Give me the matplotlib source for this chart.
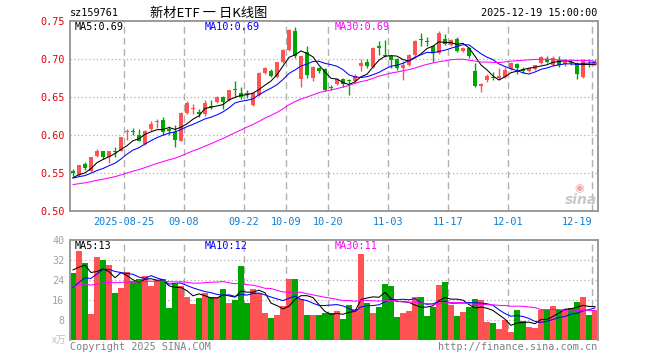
import numpy as np
import pandas as pd
import matplotlib
matplotlib.use('Agg')
import matplotlib.pyplot as plt

# daily candles, 2025-08-12 .. 2025-12-19 (88 trading days)
opens = [0.553, 0.548, 0.562, 0.553, 0.573, 0.580, 0.572, 0.579, 0.580, 0.604,
         0.606, 0.601, 0.589, 0.608, 0.618, 0.620, 0.608, 0.604, 0.593, 0.629,
         0.634, 0.630, 0.628, 0.639, 0.644, 0.651, 0.646, 0.660, 0.656, 0.655,
         0.640, 0.653, 0.682, 0.685, 0.677, 0.696, 0.712, 0.737, 0.674, 0.709,
         0.675, 0.689, 0.687, 0.663, 0.668, 0.674, 0.673, 0.671, 0.691, 0.696,
         0.690, 0.717, 0.706, 0.704, 0.701, 0.688, 0.692, 0.706, 0.727, 0.724,
         0.717, 0.708, 0.727, 0.719, 0.727, 0.711, 0.715, 0.684, 0.665, 0.673,
         0.676, 0.676, 0.677, 0.687, 0.694, 0.687, 0.684, 0.687, 0.695, 0.701,
         0.692, 0.699, 0.6935, 0.696, 0.695, 0.677, 0.694, 0.693]
highs = [0.555, 0.561, 0.565, 0.572, 0.582, 0.580, 0.580, 0.585, 0.598, 0.608,
         0.609, 0.608, 0.607, 0.619, 0.621, 0.624, 0.612, 0.614, 0.630, 0.645,
         0.641, 0.634, 0.646, 0.646, 0.652, 0.652, 0.660, 0.671, 0.663, 0.659,
         0.656, 0.683, 0.690, 0.687, 0.697, 0.713, 0.740, 0.743, 0.705, 0.717,
         0.691, 0.690, 0.689, 0.666, 0.676, 0.676, 0.674, 0.680, 0.701, 0.700,
         0.716, 0.724, 0.725, 0.705, 0.702, 0.698, 0.707, 0.725, 0.735, 0.730,
         0.718, 0.737, 0.733, 0.727, 0.730, 0.716, 0.716, 0.695, 0.669, 0.681,
         0.683, 0.688, 0.690, 0.697, 0.695, 0.690, 0.689, 0.693, 0.704, 0.704,
         0.704, 0.704, 0.701, 0.701, 0.697, 0.700, 0.700, 0.701]
lows = [0.546, 0.547, 0.554, 0.552, 0.571, 0.569, 0.564, 0.572, 0.579, 0.594,
        0.600, 0.592, 0.587, 0.605, 0.610, 0.600, 0.600, 0.584, 0.592, 0.628,
        0.628, 0.624, 0.625, 0.634, 0.642, 0.634, 0.645, 0.651, 0.648, 0.649,
        0.638, 0.652, 0.681, 0.677, 0.676, 0.695, 0.711, 0.702, 0.663, 0.676,
        0.672, 0.682, 0.658, 0.659, 0.666, 0.664, 0.653, 0.669, 0.684, 0.689,
        0.689, 0.706, 0.703, 0.688, 0.686, 0.673, 0.691, 0.705, 0.718, 0.717,
        0.696, 0.707, 0.719, 0.718, 0.710, 0.709, 0.702, 0.664, 0.657, 0.670,
        0.673, 0.673, 0.675, 0.686, 0.680, 0.682, 0.683, 0.686, 0.694, 0.695,
        0.691, 0.690, 0.691, 0.693, 0.674, 0.676, 0.690, 0.692]
closes = [0.551, 0.561, 0.557, 0.571, 0.580, 0.572, 0.579, 0.578, 0.598, 0.605,
          0.604, 0.593, 0.606, 0.615, 0.619, 0.605, 0.606, 0.594, 0.629, 0.642,
          0.635, 0.628, 0.643, 0.637, 0.650, 0.644, 0.659, 0.659, 0.651, 0.654,
          0.655, 0.682, 0.688, 0.678, 0.696, 0.712, 0.739, 0.704, 0.704, 0.679,
          0.690, 0.684, 0.660, 0.662, 0.674, 0.667, 0.671, 0.678, 0.695, 0.691,
          0.715, 0.715, 0.704, 0.699, 0.688, 0.692, 0.706, 0.724, 0.726, 0.723,
          0.708, 0.734, 0.720, 0.725, 0.711, 0.715, 0.704, 0.665, 0.668, 0.678,
          0.675, 0.678, 0.686, 0.695, 0.688, 0.685, 0.688, 0.692, 0.703, 0.696,
          0.702, 0.692, 0.699, 0.695, 0.680, 0.699, 0.693, 0.697]
# volume in 万手
volumes = [26.8, 35.7, 30.9, 10.2, 33.2, 32.0, 30.0, 18.7, 20.7, 27.0,
           23.7, 24.4, 25.5, 21.6, 23.9, 24.3, 12.6, 22.4, 21.5, 17.1,
           14.2, 16.6, 18.5, 17.1, 17.1, 20.4, 14.7, 15.9, 29.4, 14.7,
           20.3, 18.8, 10.7, 8.6, 9.8, 13.5, 24.3, 24.3, 16.2, 9.8,
           9.8, 9.8, 10.6, 10.6, 11.5, 8.2, 13.8, 12.3, 34.5, 14.6,
           10.5, 13.0, 22.3, 21.5, 8.9, 10.5, 11.4, 17.0, 17.0, 9.3,
           13.0, 21.9, 23.1, 13.8, 9.3, 10.9, 13.0, 16.2, 15.8, 6.9,
           6.5, 4.1, 7.7, 3.2, 11.8, 7.3, 4.9, 4.5, 11.8, 11.8,
           13.4, 11.8, 12.2, 12.6, 15.0, 17.0, 9.7, 11.8]

# sessions before the window, only used to start the moving averages
prior_closes = [0.522, 0.525, 0.523, 0.527, 0.530, 0.528, 0.526, 0.529, 0.532, 0.531,
                0.528, 0.530, 0.533, 0.536, 0.534, 0.532, 0.535, 0.538, 0.540, 0.537,
                0.541, 0.543, 0.540, 0.544, 0.546, 0.542, 0.545, 0.543, 0.541]
prior_volumes = [22, 18, 25, 20, 19, 24, 21, 17, 23, 26,
                 20, 18, 22, 27, 19, 21, 24, 20, 23, 25,
                 16, 13, 12, 15, 14, 30, 27, 25, 31]

tick_dates = ['2025-08-25', '2025-09-08', '2025-09-22', '2025-10-09', '2025-10-20',
              '2025-11-03', '2025-11-17', '2025-12-01', '2025-12-19']
tick_labels = ['2025-08-25', '09-08', '09-22', '10-09', '10-20',
               '11-03', '11-17', '12-01', '12-19']

# trading calendar (national day holiday closed)
days = pd.bdate_range('2025-08-12', '2025-12-19')
days = days[(days < '2025-10-01') | (days > '2025-10-08')]
ticks = np.array([days.get_loc(pd.Timestamp(d)) for d in tick_dates]) - 0.5

RED = '#ff5353'
GREEN = '#00a600'
FRAME = '#9a9a9a'
GRID = '#b0b0b0'
MONO = 'DejaVu Sans Mono'
n = len(closes)
x = np.arange(n)

def ma(prior, vals, w):
    s = pd.Series(list(prior) + list(vals)).rolling(w).mean()
    return s.iloc[len(prior):].values

fig = plt.figure(figsize=(6.6, 3.6), dpi=100)

def px(xp, yp):
    return xp / 660, 1 - yp / 360

ax = fig.add_axes([70 / 660, 1 - 211.3 / 360, 528 / 660, 190 / 360])
axv = fig.add_axes([70 / 660, 1 - 339.5 / 360, 528 / 660, 99.5 / 360])

# price panel
for i in range(n):
    o, c = opens[i], closes[i]
    col = RED if c >= o else GREEN
    ax.vlines(i, lows[i], highs[i], color=col, lw=1, zorder=3)
    ax.bar(i, max(abs(c - o), 0.0013), bottom=min(o, c), width=0.72,
           color=col, lw=0, zorder=3)

ax.plot(x, ma(prior_closes, closes, 5), color='black', lw=0.75, zorder=4)
ax.plot(x, ma(prior_closes, closes, 10), color='#0000ff', lw=0.75, zorder=4)
ax.plot(x, ma(prior_closes, closes, 30), color='#ff00ff', lw=0.75, zorder=4)

ax.set_xlim(-0.5, n - 0.5)
ax.set_ylim(0.50, 0.75)
for yv in [0.55, 0.60, 0.65, 0.70]:
    ax.axhline(yv, color=GRID, lw=0.9, ls=(0, (1, 2)), zorder=1)
for t in ticks:
    ax.axvline(t, color=GRID, lw=1, ls=(0, (5, 3)), zorder=1)

ax.set_yticks([0.50, 0.55, 0.60, 0.65, 0.70, 0.75])
ax.set_yticklabels(['%.2f' % v for v in [0.50, 0.55, 0.60, 0.65, 0.70, 0.75]],
                   color='#ee0000', fontsize=7.3, family=MONO)
ax.set_xticks(ticks)
ax.set_xticklabels(tick_labels, color='#0a7fd6', fontsize=7.3, family=MONO)
ax.get_xticklabels()[-1].set_ha('right')
ax.tick_params(length=0, pad=4)
for s in ax.spines.values():
    s.set_color(FRAME)
    s.set_linewidth(1.4)

# volume panel
vcol = [RED if closes[i] >= opens[i] else GREEN for i in range(n)]
axv.bar(x, volumes, width=0.86, color=vcol, lw=0, zorder=2)
axv.plot(x, ma(prior_volumes, volumes, 5), color='black', lw=0.75, zorder=4)
axv.plot(x, ma(prior_volumes, volumes, 10), color='#0000ff', lw=0.75, zorder=4)
axv.plot(x, ma(prior_volumes, volumes, 30), color='#ff00ff', lw=0.75, zorder=4)
axv.set_xlim(-0.5, n - 0.5)
axv.set_ylim(0, 40)
for yv in [8, 16, 24, 32]:
    axv.axhline(yv, color=GRID, lw=0.9, ls=(0, (1, 2)), zorder=1)
for t in ticks:
    axv.axvline(t, color=GRID, lw=1, ls=(0, (5, 3)), zorder=1)
axv.set_xticks([])
axv.set_yticks([8, 16, 24, 32, 40])
axv.set_yticklabels(['8', '16', '24', '32', '40'], color='#a0a0a0',
                    fontsize=7.3, family=MONO)
axv.tick_params(length=0, pad=4)
for s in axv.spines.values():
    s.set_color(FRAME)
    s.set_linewidth(1.4)
axv.spines['bottom'].set_visible(False)

# header and labels
fig.text(*px(70, 13), 'sz159761', fontsize=7.3, family=MONO, va='center')
fig.text(*px(150, 13), '新材ETF 一 日K线图', fontsize=9.5,
         family=['Noto Sans CJK SC', 'DejaVu Sans'], va='center')
fig.text(*px(597, 13), '2025-12-19 15:00:00', fontsize=7.3, family=MONO,
         va='center', ha='right')

fig.text(*px(75, 27), 'MA5:0.69', fontsize=7.3, family=MONO, va='center', color='black')
fig.text(*px(205, 27), 'MA10:0.69', fontsize=7.3, family=MONO, va='center', color='#0000ff')
fig.text(*px(335, 27), 'MA30:0.69', fontsize=7.3, family=MONO, va='center', color='#ff00ff')
fig.text(*px(75, 246), 'MA5:13', fontsize=7.3, family=MONO, va='center', color='black')
fig.text(*px(205, 246), 'MA10:12', fontsize=7.3, family=MONO, va='center', color='#0000ff')
fig.text(*px(335, 246), 'MA30:11', fontsize=7.3, family=MONO, va='center', color='#ff00ff')

fig.text(*px(66, 340), 'x万', fontsize=7, color='#c0c0c0', va='center', ha='right',
         family=['Noto Sans CJK SC', 'DejaVu Sans'])
fig.text(*px(70, 347), 'Copyright 2025 SINA.COM', fontsize=7.3, family=MONO,
         va='center', color='#808080')
fig.text(*px(597, 347), 'http://finance.sina.com.cn', fontsize=7.3, family=MONO,
         va='center', ha='right', color='#808080')

# sina watermark
fig.text(*px(597, 200), 'sina', fontsize=10, style='italic', weight='bold',
         color='#c8c8c8', ha='right', va='center')
fig.text(*px(579, 188), '◉', fontsize=8, color='#f3a6a6', ha='center', va='center')

fig.savefig('out.png', dpi=100)
